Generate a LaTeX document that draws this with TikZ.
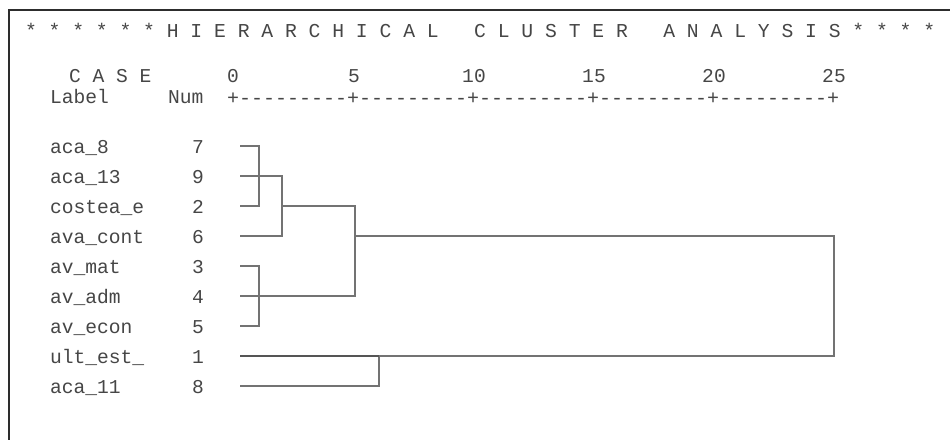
\documentclass[tikz,border=0pt]{standalone}
\usepackage{fontspec}
\setmonofont{Liberation Mono}
\definecolor{txt}{RGB}{70,70,70}
\definecolor{ln}{RGB}{115,115,115}
\definecolor{lndark}{RGB}{85,85,85}
\definecolor{frm}{RGB}{45,45,45}
\begin{document}
\begin{tikzpicture}[x=1pt,y=-1pt,
  every node/.style={inner sep=0pt, outer sep=0pt, text=txt,
    font=\ttfamily\fontsize{19.6}{20}\selectfont},
  lbl/.style={anchor=base west},
  num/.style={anchor=base east},
  tick/.style={anchor=base},
  dend/.style={draw=ln, line width=1.6pt, line join=miter}]
\useasboundingbox (0,0) rectangle (950,439);
\fill[white] (0,0) rectangle (950,439);
\draw[frm, line width=2.4pt] (9,440) -- (9,10) -- (951,10);

% title
\node[lbl, font=\ttfamily\fontsize{19.7}{20}\selectfont] (title) at (25,37)
  {*~*~*~*~*~*~H~I~E~R~A~R~C~H~I~C~A~L~~~C~L~U~S~T~E~R~~~A~N~A~L~Y~S~I~S~*~*~*~*};

% header
\node[lbl] (case) at (69,82) {C~A~S~E};
\foreach \v/\x in {0/233,5/354,10/474,15/594,20/714,25/834}
  \node[tick] (t\v) at (\x,82) {\v};
\node[lbl] (label) at (50,103) {Label};
\node[lbl] (num) at (168,103) {Num};
\node[lbl, font=\ttfamily\fontsize{20}{20}\selectfont] (axis) at (227,104)
  {+---------+---------+---------+---------+---------+};

% rows
\foreach \l/\n/\y in {aca\_8/7/146, aca\_13/9/176, costea\_e/2/206, ava\_cont/6/236,
    av\_mat/3/266, av\_adm/4/296, av\_econ/5/326, ult\_est\_/1/356, aca\_11/8/386}{
  \node[lbl] (lab\n) at (50,\y+7) {\l};
  \node[num] (num\n) at (204,\y+7) {\n};
  \coordinate (c\n) at (240,\y);
}

% junction points
\coordinate (jA) at (282,206);
\coordinate (jB) at (355,236);
\coordinate (jC) at (379,356);
\coordinate (jD) at (834,236);

% dendrogram
\draw[dend] (c7) -- ++(19,0) |- (c2);
\draw[dend] (c9) -| (jA) |- (c6);
\draw[dend] (jA) -| (jB) |- (c4);
\draw[dend] (c3) -- ++(19,0) |- (c5);
\draw[dend] (jB) -- (jD) |- (c1);
\draw[dend] (c8) -| (jC);
\draw[dend, draw=lndark] (c1) -- (jC);
\end{tikzpicture}
\end{document}
